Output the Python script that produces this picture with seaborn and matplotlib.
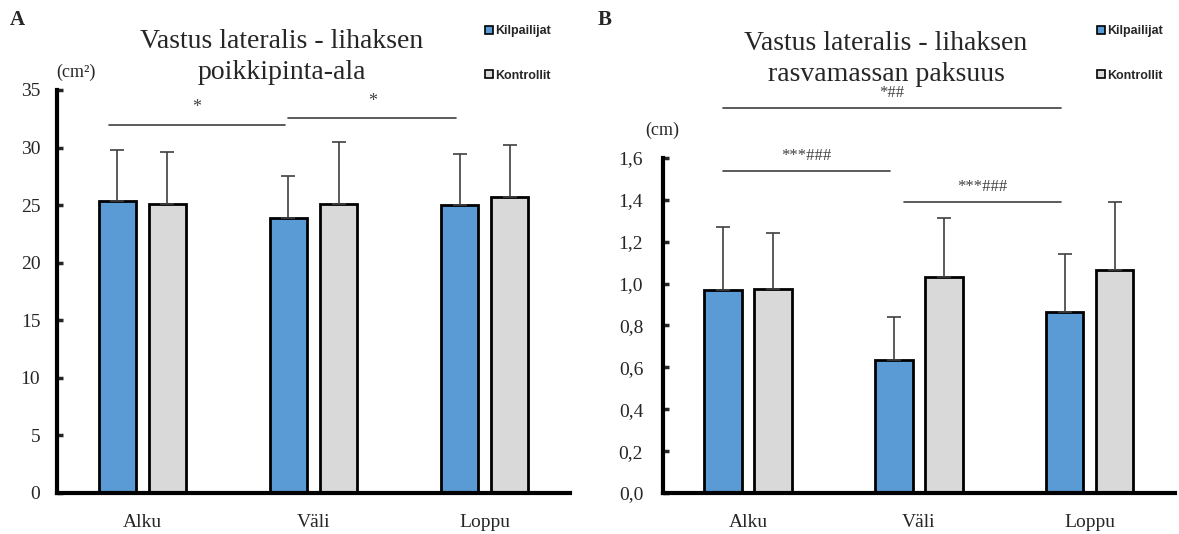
import matplotlib
matplotlib.use("Agg")
import matplotlib.pyplot as plt
import seaborn as sns
import pandas as pd
import numpy as np
from matplotlib.patches import Patch

# ---------------- data ----------------
categories = ["Alku", "Väli", "Loppu"]
groups = ["Kilpailijat", "Kontrollit"]

csa_kilp = [25.4, 23.9, 25.0]
csa_kilp_sd = [4.4, 3.6, 4.4]
csa_kont = [25.1, 25.1, 25.7]
csa_kont_sd = [4.5, 5.4, 4.5]

fat_kilp = [0.97, 0.635, 0.865]
fat_kilp_sd = [0.30, 0.205, 0.275]
fat_kont = [0.975, 1.03, 1.065]
fat_kont_sd = [0.265, 0.285, 0.325]

csa_yticks = [0, 5, 10, 15, 20, 25, 30, 35]
fat_yticks = [0.0, 0.2, 0.4, 0.6, 0.8, 1.0, 1.2, 1.4, 1.6]

# significance brackets: (start category, end category, y value, label)
csa_sig = [(0, 1, 32.0, "*"), (1, 2, 32.6, "*")]
fat_sig = [(0, 1, 1.54, "***###"), (1, 2, 1.39, "***###"), (0, 2, 1.84, "*##")]

colors = {"Kilpailijat": "#5B9BD5", "Kontrollit": "#D9D9D9"}

sns.set_style("white")
plt.rcParams["font.family"] = ["Liberation Serif", "DejaVu Serif"]


def long_df(a, b):
    rows = []
    for c, v in zip(categories, a):
        rows.append({"cat": c, "grp": groups[0], "val": v})
    for c, v in zip(categories, b):
        rows.append({"cat": c, "grp": groups[1], "val": v})
    return pd.DataFrame(rows)


fig = plt.figure(figsize=(11.79, 5.34), dpi=100)
axA = fig.add_axes([0.0483, 0.0768, 0.4352, 0.7547])
axB = fig.add_axes([0.5620, 0.0768, 0.4346, 0.6273])


def draw(ax, a, asd, b, bsd, yticks, fmt, sig, sig_fs, ypad):
    df = long_df(a, b)
    sns.barplot(data=df, x="cat", y="val", hue="grp", order=categories,
                hue_order=groups, palette=colors, width=0.585, gap=0.25,
                edgecolor="black", linewidth=2, legend=False, ax=ax,
                errorbar=None, saturation=1)
    # error bars (upper only)
    bars = sorted(ax.patches, key=lambda p: p.get_x())
    vals, sds = [], []
    for i in range(len(categories)):
        vals += [a[i], b[i]]
        sds += [asd[i], bsd[i]]
    xs = [p.get_x() + p.get_width() / 2 for p in bars]
    ax.errorbar(xs, vals, yerr=[np.zeros(len(sds)), sds], fmt="none",
                ecolor="#404040", elinewidth=1.2, capsize=5, capthick=1.2,
                zorder=1)
    blue_x = xs[0::2]
    for s, e, y, lab in sig:
        x0 = blue_x[s] - (0.05 if s == 0 and e == 1 and ax is axA else 0)
        x1 = blue_x[e] - 0.02
        if ax is axB and s == 1:
            x0 = blue_x[s] + 0.06
        ax.plot([x0, x1], [y, y], color="#404040", lw=1.2, clip_on=False)
        ax.text((x0 + x1) / 2, y + (0.02 * yticks[-1]), lab, ha="center",
                va="bottom", fontsize=sig_fs, color="#404040", clip_on=False)
    ax.set_ylim(yticks[0], yticks[-1])
    ax.set_xlim(-0.5, 2.5)
    ax.set_yticks(yticks)
    ax.set_yticklabels([fmt(t) for t in yticks], fontsize=14)
    ax.tick_params(axis="x", labelsize=14, length=0, pad=15)
    ax.tick_params(axis="y", direction="in", length=4, width=2.5, left=True,
                   pad=ypad)
    ax.set_xlabel("")
    ax.set_ylabel("")
    for sp in ["top", "right"]:
        ax.spines[sp].set_visible(False)
    for sp in ["left", "bottom"]:
        ax.spines[sp].set_linewidth(3)
        ax.spines[sp].set_color("black")


draw(axA, csa_kilp, csa_kilp_sd, csa_kont, csa_kont_sd, csa_yticks,
     lambda t: f"{t:d}", csa_sig, 13, 12)
draw(axB, fat_kilp, fat_kilp_sd, fat_kont, fat_kont_sd, fat_yticks,
     lambda t: f"{t:.1f}".replace(".", ","), fat_sig, 12, 14)

# titles
fig.text(282 / 1179, 1 - 57 / 534, "Vastus lateralis - lihaksen\npoikkipinta-ala",
         ha="center", va="center", fontsize=20, linespacing=1.35)
fig.text(886 / 1179, 1 - 59 / 534, "Vastus lateralis - lihaksen\nrasvamassan paksuus",
         ha="center", va="center", fontsize=20, linespacing=1.35)

# panel letters
fig.text(10 / 1179, 1 - 20 / 534, "A", fontsize=15, fontweight="bold", va="center")
fig.text(598 / 1179, 1 - 20 / 534, "B", fontsize=15, fontweight="bold", va="center")

# units
fig.text(76 / 1179, 1 - 72 / 534, "(cm²)", ha="center", va="center", fontsize=13)
fig.text(662 / 1179, 1 - 130 / 534, "(cm)", ha="center", va="center", fontsize=13)

# legends
handles = [Patch(facecolor=colors[g], edgecolor="black", linewidth=1.2, label=g)
           for g in groups]
for x0 in (474 / 1179, 1086 / 1179):
    fig.legend(handles=handles, loc="upper left", bbox_to_anchor=(x0, 1 - 14 / 534),
               frameon=False, handlelength=0.6, handleheight=0.6,
               handletextpad=0.2, labelspacing=2.6,
               prop={"family": "Liberation Sans", "weight": "bold", "size": 9})

fig.savefig("out.png", dpi=100)
